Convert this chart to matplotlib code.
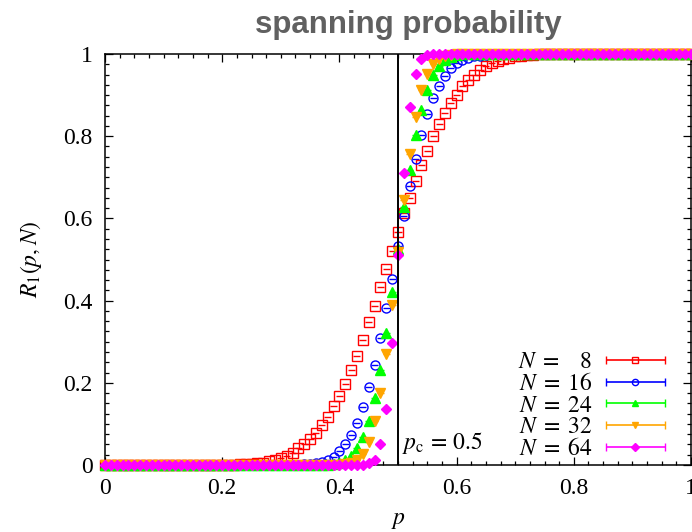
import numpy as np
import matplotlib
matplotlib.use("Agg")
import matplotlib.pyplot as plt
from matplotlib.container import ErrorbarContainer
from matplotlib.legend_handler import HandlerErrorbar

# occupation probability p, step 0.01
p = np.round(np.arange(0, 101) / 100, 2)

# spanning probability R_1(p, N)
r_n8 = [
    0, 0, 0, 0, 0, 0, 0, 0, 0, 0,
    0, 0, 0, 0, 0, 0, 0, 0, 0, 0,
    0.001, 0.001, 0.001, 0.002, 0.002, 0.003, 0.004, 0.006, 0.009, 0.012,
    0.017, 0.023, 0.030, 0.041, 0.051, 0.064, 0.079, 0.097, 0.117, 0.143,
    0.167, 0.197, 0.232, 0.266, 0.305, 0.347, 0.386, 0.432, 0.476, 0.520,
    0.566, 0.613, 0.649, 0.691, 0.730, 0.765, 0.800, 0.829, 0.856, 0.880,
    0.900, 0.921, 0.936, 0.950, 0.961, 0.970, 0.978, 0.984, 0.988, 0.991,
    0.994, 0.996, 0.997, 0.998, 0.999, 0.999, 1, 1, 1, 1,
    1, 1, 1, 1, 1, 1, 1, 1, 1, 1,
    1, 1, 1, 1, 1, 1, 1, 1, 1, 1,
    1,
]
r_n16 = [
    0, 0, 0, 0, 0, 0, 0, 0, 0, 0,
    0, 0, 0, 0, 0, 0, 0, 0, 0, 0,
    0, 0, 0, 0, 0, 0, 0, 0, 0, 0,
    0, 0.001, 0.001, 0.001, 0.002, 0.003, 0.005, 0.008, 0.012, 0.020,
    0.033, 0.050, 0.073, 0.103, 0.140, 0.189, 0.243, 0.308, 0.381, 0.453,
    0.532, 0.607, 0.680, 0.745, 0.802, 0.853, 0.894, 0.922, 0.947, 0.966,
    0.978, 0.985, 0.990, 0.994, 0.996, 0.998, 0.999, 1, 1, 1,
    1, 1, 1, 1, 1, 1, 1, 1, 1, 1,
    1, 1, 1, 1, 1, 1, 1, 1, 1, 1,
    1, 1, 1, 1, 1, 1, 1, 1, 1, 1,
    1,
]
r_n24 = [
    0, 0, 0, 0, 0, 0, 0, 0, 0, 0,
    0, 0, 0, 0, 0, 0, 0, 0, 0, 0,
    0, 0, 0, 0, 0, 0, 0, 0, 0, 0,
    0, 0, 0, 0, 0, 0, 0, 0, 0.001, 0.003,
    0.006, 0.013, 0.023, 0.041, 0.067, 0.108, 0.163, 0.232, 0.320, 0.420,
    0.525, 0.628, 0.718, 0.803, 0.864, 0.913, 0.949, 0.971, 0.986, 0.993,
    0.997, 0.999, 1, 1, 1, 1, 1, 1, 1, 1,
    1, 1, 1, 1, 1, 1, 1, 1, 1, 1,
    1, 1, 1, 1, 1, 1, 1, 1, 1, 1,
    1, 1, 1, 1, 1, 1, 1, 1, 1, 1,
    1,
]
r_n32 = [
    0, 0, 0, 0, 0, 0, 0, 0, 0, 0,
    0, 0, 0, 0, 0, 0, 0, 0, 0, 0,
    0, 0, 0, 0, 0, 0, 0, 0, 0, 0,
    0, 0, 0, 0, 0, 0, 0, 0, 0, 0,
    0, 0.002, 0.005, 0.012, 0.027, 0.055, 0.106, 0.175, 0.269, 0.389,
    0.518, 0.645, 0.756, 0.846, 0.912, 0.951, 0.976, 0.988, 0.995, 0.998,
    0.999, 1, 1, 1, 1, 1, 1, 1, 1, 1,
    1, 1, 1, 1, 1, 1, 1, 1, 1, 1,
    1, 1, 1, 1, 1, 1, 1, 1, 1, 1,
    1, 1, 1, 1, 1, 1, 1, 1, 1, 1,
    1,
]
r_n64 = [
    0, 0, 0, 0, 0, 0, 0, 0, 0, 0,
    0, 0, 0, 0, 0, 0, 0, 0, 0, 0,
    0, 0, 0, 0, 0, 0, 0, 0, 0, 0,
    0, 0, 0, 0, 0, 0, 0, 0, 0, 0,
    0, 0, 0, 0, 0.001, 0.004, 0.013, 0.051, 0.137, 0.297,
    0.511, 0.710, 0.870, 0.952, 0.987, 0.997, 0.999, 1, 1, 1,
    1, 1, 1, 1, 1, 1, 1, 1, 1, 1,
    1, 1, 1, 1, 1, 1, 1, 1, 1, 1,
    1, 1, 1, 1, 1, 1, 1, 1, 1, 1,
    1, 1, 1, 1, 1, 1, 1, 1, 1, 1,
    1,
]

sizes = [8, 16, 24, 32, 64]
series = [r_n8, r_n16, r_n24, r_n32, r_n64]
labels = [r"$N\;=\;\enspace\;8$", r"$N\;=\;16$", r"$N\;=\;24$",
          r"$N\;=\;32$", r"$N\;=\;64$"]
p_c = 0.5

# gnuplot-ish look
colors = ["#ff0000", "#0000ff", "#00ff00", "#ffa500", "#ff00ff"]
markers = ["s", "o", "^", "v", "D"]
filled = [False, False, True, True, True]
msizes = [6.5, 6.5, 7.0, 7.0, 4.6]

plt.rcParams["font.family"] = "serif"
plt.rcParams["font.serif"] = ["Liberation Serif", "DejaVu Serif"]
plt.rcParams["mathtext.fontset"] = "stix"

fig = plt.figure(figsize=(6.92, 5.32), dpi=100)
ax = fig.add_axes([105 / 692, 1 - 465 / 532, 586 / 692, 411 / 532])

for r, c, m, f, ms in zip(series, colors, markers, filled, msizes):
    ax.errorbar(p, r, xerr=0.006, fmt=m, color=c, ms=ms, mew=1.0,
                mfc=c if f else "none", mec=c, elinewidth=1.0, capsize=0,
                ls="none", clip_on=False, zorder=3)

# proxies for the legend: long bar with caps, marker in the middle
handles = []
for lab, c, m, f in zip(labels, colors, markers, filled):
    h = ax.errorbar([np.nan], [np.nan], xerr=[0.1], fmt=m, color=c, ms=4.5,
                    mew=1.0, mfc=c if f else "none", mec=c,
                    elinewidth=1.2, capsize=3.0, capthick=1.0, label=lab)
    handles.append(h)

ax.axvline(p_c, color="black", lw=1.4, zorder=4)
ax.text(p_c + 0.007, 0.022, r"$p_{\mathrm{c}}\,=\,0.5$", fontsize=17,
        ha="left", va="bottom")

ax.set_xlim(0, 1)
ax.set_ylim(0, 1)
ax.set_xticks([0, 0.2, 0.4, 0.6, 0.8, 1])
ax.set_xticklabels(["0", "0.2", "0.4", "0.6", "0.8", "1"])
ax.set_yticks([0, 0.2, 0.4, 0.6, 0.8, 1])
ax.set_yticklabels(["0", "0.2", "0.4", "0.6", "0.8", "1"])
ax.set_xticks(np.arange(0, 1.0001, 0.025), minor=True)
ax.set_yticks(np.arange(0, 1.0001, 0.025), minor=True)
ax.tick_params(which="both", direction="in", top=True, right=True,
               labelsize=17, width=0.9)
ax.tick_params(which="major", length=6, pad=9)
ax.tick_params(which="minor", length=3)
for s in ax.spines.values():
    s.set_linewidth(1.1)

ax.set_xlabel(r"$p$", fontsize=17, labelpad=8)
ax.set_ylabel(r"$R_1(p,N)$", fontsize=17, labelpad=14)

fig.text(408 / 692, 1 - 25 / 532, "spanning probability", family="Liberation Sans",
         fontsize=22.5, fontweight="bold", color="#606060", ha="center", va="center")

leg = ax.legend(handles=handles, loc="lower right", bbox_to_anchor=(0.957, 0.012),
                frameon=False, markerfirst=False, fontsize=17, handlelength=2.6,
                handletextpad=0.5, labelspacing=0.0, borderaxespad=0, borderpad=0,
                handler_map={ErrorbarContainer: HandlerErrorbar(xerr_size=1.25)})

fig.savefig("out.png", dpi=100)
